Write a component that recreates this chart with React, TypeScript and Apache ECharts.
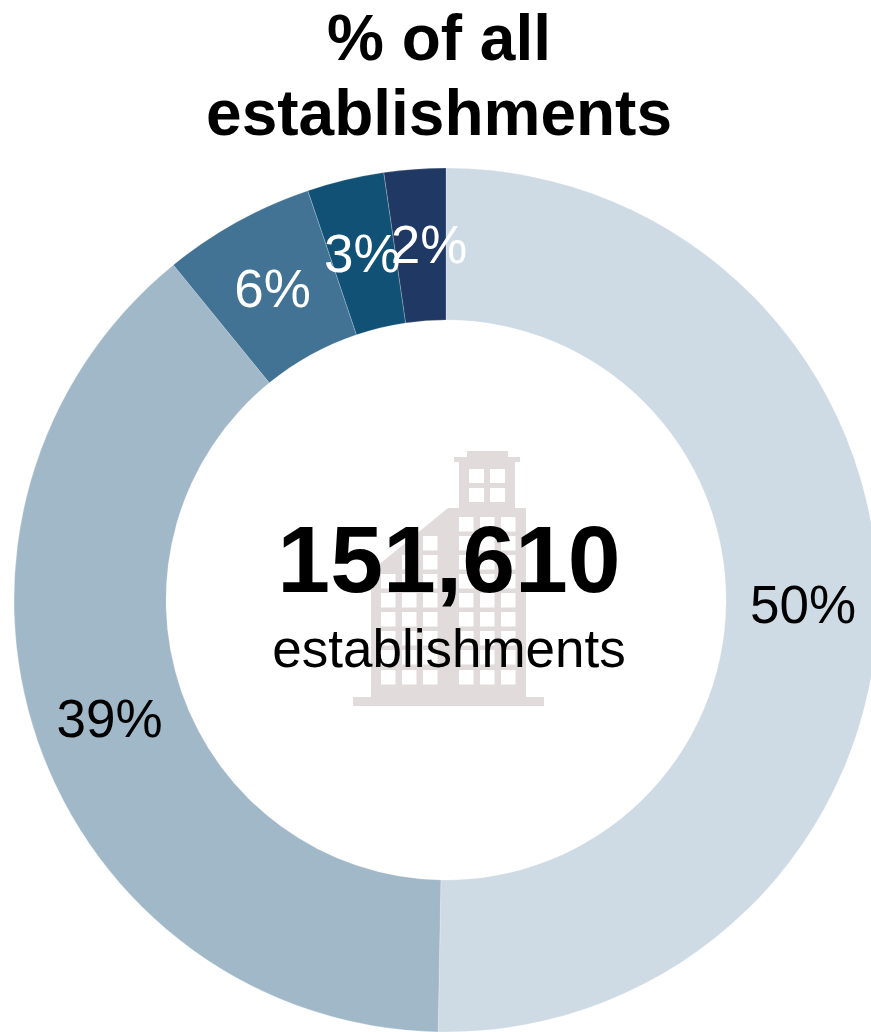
import React, { useEffect, useRef } from "react";
import * as echarts from "echarts";

const categories = ["Group A", "Group B", "Group C", "Group D", "Group E"];
const shares = [50.29, 38.84, 5.69, 2.88, 2.3];
const sliceColors = ["#CEDBE4", "#A1B8C8", "#437394", "#115175", "#203864"];
const labelColors = ["#000000", "#000000", "#FFFFFF", "#FFFFFF", "#FFFFFF"];
const labelOffsets = [[-2, 1], [3, 1], [0, 3], [0, 3], [9, 3]];
const titleText = "% of all\nestablishments";
const totalText = "151,610";
const totalCaption = "establishments";

const FONT = '"Liberation Sans", Arial, sans-serif';

// Rectangle as a sub-path; wound counter-clockwise so it cuts a hole in the building.
const hole = (x: number, y: number, w: number, h: number) =>
  `M${x} ${y}L${x} ${y + h}L${x + w} ${y + h}L${x + w} ${y}Z`;

function buildingPath(): string {
  const outline =
    "M353 697L371 697L371 571L448 508L459 508L459 462L454 462L454 457L467 457L467 451L508 451L508 457L520 457L520 462L515 462L515 508L526 508L526 697L544 697L544 706L353 706Z";
  const parts = [outline];
  [469, 490].forEach((x) =>
    [469, 488].forEach((y) => parts.push(hole(x, y, 15, 14)))
  );
  const rows = [517, 536, 555, 574, 593, 612, 631, 650, 670];
  [459, 480, 501].forEach((x) => rows.forEach((y) => parts.push(hole(x, y, 14.5, 14.5))));
  [
    { x: 381, from: 3 },
    { x: 402, from: 2 },
    { x: 423, from: 1 },
  ].forEach(({ x, from }) =>
    rows.slice(from).forEach((y) => parts.push(hole(x, y, 14.5, 14.5)))
  );
  return parts.join("");
}

echarts.graphic.registerShape(
  "officeBuilding",
  echarts.graphic.extendPath(buildingPath(), {}) as any
);

export default function App() {
  const ref = useRef<HTMLDivElement>(null);

  useEffect(() => {
    const chart = echarts.init(ref.current!, undefined, { renderer: "svg" });
    chart.setOption({
      animation: false,
      backgroundColor: "#FFFFFF",
      title: {
        text: titleText,
        left: 439,
        top: 0,
        padding: 0,
        textAlign: "center",
        textStyle: {
          fontFamily: FONT,
          fontWeight: "bold",
          fontSize: 64,
          lineHeight: 75,
          color: "#000000",
        },
      },
      series: [
        {
          type: "pie",
          center: [446, 600],
          radius: [280, 432],
          startAngle: 90,
          clockwise: true,
          avoidLabelOverlap: false,
          silent: true,
          labelLayout: { hideOverlap: false },
          itemStyle: { borderColor: "rgba(255,255,255,0.45)", borderWidth: 0.5 },
          labelLine: { show: false },
          data: categories.map((name, i) => ({
            name,
            value: shares[i],
            itemStyle: { color: sliceColors[i] },
            label: {
              show: true,
              position: "inside",
              formatter: `${Math.round(shares[i])}%`,
              fontFamily: FONT,
              fontSize: 53,
              color: labelColors[i],
              textBorderWidth: 0,
              offset: labelOffsets[i],
            },
          })),
        },
      ],
      graphic: [
        {
          type: "officeBuilding",
          z: 1,
          style: { fill: "#E1DCDB" },
        },
        {
          type: "text",
          z: 2,
          style: {
            x: 449,
            y: 559,
            text: totalText,
            align: "center",
            verticalAlign: "middle",
            font: `bold 95px ${FONT}`,
            fill: "#000000",
          },
        },
        {
          type: "text",
          z: 2,
          style: {
            x: 449,
            y: 648,
            text: totalCaption,
            align: "center",
            verticalAlign: "middle",
            font: `53px ${FONT}`,
            fill: "#000000",
          },
        },
      ],
    });
    return () => chart.dispose();
  }, []);

  return (
    <div
      ref={ref}
      style={{ position: "fixed", left: 0, top: 0, width: 871, height: 1032 }}
    />
  );
}
